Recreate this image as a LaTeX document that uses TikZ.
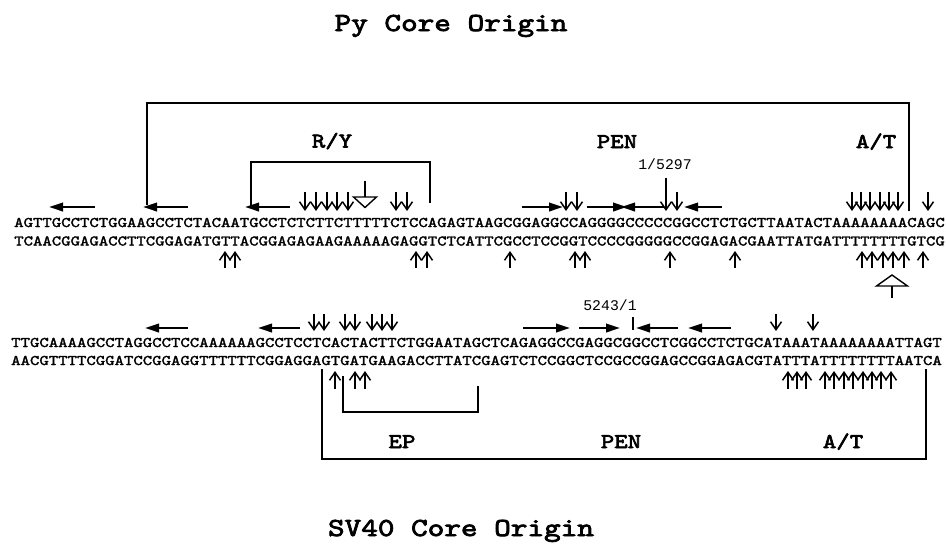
\documentclass[tikz,border=0pt]{standalone}
\usepackage{fontspec}
\newfontfamily\seqfont{lmmono10-regular.otf}[FakeStretch=1.218,FakeBold=2]
\newfontfamily\hdfont{lmmono10-regular.otf}[FakeStretch=1.218,FakeBold=3]
\newfontfamily\numfont{Liberation Mono}
\usetikzlibrary{arrows.meta}
\tikzset{
  seq/.style={font=\seqfont\fontsize{14.7}{16}\selectfont, inner sep=0pt, anchor=base west},
  ttl/.style={font=\hdfont\fontsize{26}{30}\selectfont, inner sep=0pt, anchor=base},
  lbl/.style={font=\hdfont\fontsize{21}{24}\selectfont, inner sep=0pt, anchor=base},
  num/.style={font=\numfont\fontsize{14.8}{16}\selectfont, inner sep=0pt, anchor=base},
  cut/.style={line width=1.5pt, -{Straight Barb[length=8pt,width=11pt]}},
  rpt/.style={line width=2.2pt, -{Triangle[length=14pt,width=8.5pt]}},
  brk/.style={line width=1.4pt},
  tri/.style={line width=1.4pt}
}
\begin{document}
\begin{tikzpicture}[x=1pt,y=-1pt]
\useasboundingbox (0,0) rectangle (946,544);
% titles
\node[ttl] (py) at (451,31) {Py Core Origin};
\node[ttl] (sv) at (461,536) {SV40 Core Origin};
% Py strands
\node[seq] (pytop) at (14,227) {AGTTGCCTCTGGAAGCCTCTACAATGCCTCTCTTCTTTTTCTCCAGAGTAAGCGGAGGCCAGGGGCCCCCGGCCTCTGCTTAATACTAAAAAAAACAGC};
\node[seq] (pybot) at (14,245.5) {TCAACGGAGACCTTCGGAGATGTTACGGAGAGAAGAAAAAGAGGTCTCATTCGCCTCCGGTCCCCGGGGGCCGGAGACGAATTATGATTTTTTTTGTCG};
% SV40 strands
\node[seq] (svtop) at (11,347) {TTGCAAAAGCCTAGGCCTCCAAAAAAGCCTCCTCACTACTTCTGGAATAGCTCAGAGGCCGAGGCGGCCTCGGCCTCTGCATAAATAAAAAAAATTAGT};
\node[seq] (svbot) at (11,365) {AACGTTTTCGGATCCGGAGGTTTTTTCGGAGGAGTGATGAAGACCTTATCGAGTCTCCGGCTCCGCCGGAGCCGGAGACGTATTTATTTTTTTTAATCA};
% element labels
\node[lbl] (ry) at (332,147.5) {R/Y};
\node[lbl] (pypen) at (617,148) {PEN};
\node[lbl] (pyat) at (876,148) {A/T};
\node[lbl] (ep) at (402,448) {EP};
\node[lbl] (svpen) at (621,448) {PEN};
\node[lbl] (svat) at (843,448) {A/T};
\node[num] (pyone) at (665,169) {1/5297};
\node[num] (svone) at (610,310) {5243/1};
% repeats
\foreach \a/\b in {95/49, 188/143, 290/245, 522/563, 587/627, 664/621, 722/684}
  \draw[rpt] (\a,207) -- (\b,207);
\foreach \a/\b in {188/145, 300/258, 523/570, 579/620, 678/636, 731/688}
  \draw[rpt] (\a,328) -- (\b,328);
% brackets
\draw[brk] (147,205) -- (147,103) -- (909,103) -- (909,211);
\draw[brk] (251,207) -- (251,162) -- (430,162) -- (430,203);
\draw[brk] (322,369) -- (322,459) -- (926,459) -- (926,369);
\draw[brk] (343,376) -- (343,412) -- (478,412) -- (478,386);
\draw[brk] (666,178) -- (666,193);
\draw[brk] (633,317) -- (633,330);
% cleavage sites
\foreach \x in {305,316,327,337,348,396,407,566,577,666,677,852,861,870,880,889,898,928}
  \draw[cut] (\x,192) -- (\x,211);
\foreach \x in {225,235,416,427,510,575,585,670,735,862,872,883,893,904,923}
  \draw[cut] (\x,268) -- (\x,251);
\foreach \x in {314,324,345,355,372,382,392,776,813}
  \draw[cut] (\x,314) -- (\x,331);
\foreach \x in {335,355,365,788,797,806,825,834,844,853,863,872,881,891}
  \draw[cut] (\x,389) -- (\x,371);
% open triangles
\draw[tri] (365,181) -- (365,197);
\draw[tri] (353.5,197) -- (376.5,197) -- (365,207.5) -- cycle;
\draw[tri] (892,298) -- (892,286);
\draw[tri] (876.5,286) -- (907.5,286) -- (892,275) -- cycle;
\end{tikzpicture}
\end{document}
